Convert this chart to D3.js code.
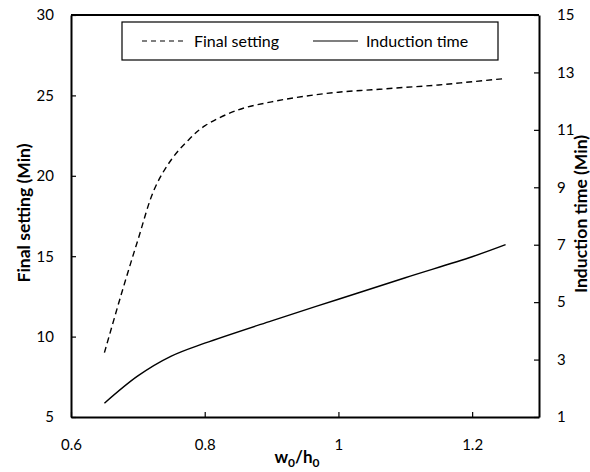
<!DOCTYPE html>
<html>
<head>
<meta charset="utf-8">
<script src="https://cdn.jsdelivr.net/npm/d3@7"></script>
<style>
body { margin: 0; background: #fff; }
text { font-family: Lato, 'Open Sans', sans-serif; fill: #000; }
</style>
</head>
<body>
<div id="chart"></div>
<script>
// final setting (left axis)
var fsX = [0.65, 0.675, 0.7, 0.725, 0.75, 0.775, 0.8, 0.85, 0.9, 0.95, 1.0, 1.05, 1.1, 1.15, 1.2, 1.25];
var fsY = [9.0, 12.6, 16.0, 19.2, 21.0, 22.2, 23.1, 24.1, 24.6, 24.95, 25.2, 25.35, 25.5, 25.65, 25.85, 26.05];
// induction time (right axis)
var itX = [0.65, 0.7, 0.75, 0.8, 0.9, 1.0, 1.1, 1.2, 1.25];
var itY = [1.48, 2.43, 3.12, 3.57, 4.35, 5.1, 5.85, 6.58, 7.0];

var xTicks = [0.6, 0.8, 1, 1.2];
var leftTicks = [5, 10, 15, 20, 25, 30];
var rightTicks = [1, 3, 5, 7, 9, 11, 13, 15];

var width = 590, height = 472;
var margin = {top: 15, right: 51, bottom: 55, left: 71};

var svg = d3.select('#chart').append('svg')
	.attr('width', width)
	.attr('height', height);

var x = d3.scaleLinear().domain([0.6, 1.3]).range([margin.left, width - margin.right]);
var yL = d3.scaleLinear().domain([5, 30]).range([height - margin.bottom, margin.top]);
var yR = d3.scaleLinear().domain([1, 15]).range([height - margin.bottom, margin.top]);

//axes
var xAxis = d3.axisBottom(x).tickValues(xTicks).tickSizeInner(-5).tickSizeOuter(0)
	.tickFormat(function(d){ return String(d); });
var gx = svg.append('g').attr('transform', 'translate(0,' + (height - margin.bottom) + ')').call(xAxis);

var gl = svg.append('g').attr('transform', 'translate(' + margin.left + ',0)')
	.call(d3.axisLeft(yL).tickValues(leftTicks).tickSizeInner(-5).tickSizeOuter(0));

var gr = svg.append('g').attr('transform', 'translate(' + (width - margin.right) + ',0)')
	.call(d3.axisRight(yR).tickValues(rightTicks).tickSizeInner(-5).tickSizeOuter(0));

[gx, gl, gr].forEach(function(g){
	g.select('.domain').attr('stroke', '#000').attr('stroke-width', 2);
	g.selectAll('.tick line').attr('stroke', '#000').attr('stroke-width', 1.2);
	g.selectAll('.tick text').attr('font-size', 15).attr('font-family', 'Lato, sans-serif').attr('fill', '#000');
});
gx.selectAll('.tick text').attr('dy', null).attr('y', 33);
gl.selectAll('.tick text').attr('x', -17);
gr.selectAll('.tick text').attr('x', 18);

// top frame line
svg.append('line')
	.attr('x1', margin.left).attr('x2', width - margin.right)
	.attr('y1', margin.top).attr('y2', margin.top)
	.attr('stroke', '#000').attr('stroke-width', 2);

//lines
var fsLine = d3.line().curve(d3.curveCatmullRom.alpha(0.5))
	.x(function(d, i){ return x(fsX[i]); })
	.y(function(d){ return yL(d); });
var itLine = d3.line().curve(d3.curveCatmullRom.alpha(0.5))
	.x(function(d, i){ return x(itX[i]); })
	.y(function(d){ return yR(d); });

svg.append('path').attr('d', fsLine(fsY))
	.attr('fill', 'none').attr('stroke', '#000').attr('stroke-width', 1.4)
	.attr('stroke-dasharray', '6,4');
svg.append('path').attr('d', itLine(itY))
	.attr('fill', 'none').attr('stroke', '#000').attr('stroke-width', 1.4);

//legend
var lg = svg.append('g');
lg.append('rect').attr('x', 122).attr('y', 22).attr('width', 376).attr('height', 38)
	.attr('fill', '#fff').attr('stroke', '#000').attr('stroke-width', 1.2);
lg.append('line').attr('x1', 142).attr('x2', 186).attr('y1', 41).attr('y2', 41)
	.attr('stroke', '#000').attr('stroke-width', 1.2).attr('stroke-dasharray', '5,4');
lg.append('text').attr('x', 194).attr('y', 46.5).attr('font-size', 16).text('Final setting');
lg.append('line').attr('x1', 313).attr('x2', 358).attr('y1', 41).attr('y2', 41)
	.attr('stroke', '#000').attr('stroke-width', 1.2);
lg.append('text').attr('x', 366).attr('y', 46.5).attr('font-size', 16).text('Induction time');

//axis titles
var xt = svg.append('text').attr('x', 297).attr('y', 463).attr('text-anchor', 'middle')
	.attr('font-size', 17).attr('font-weight', 'bold');
xt.append('tspan').text('w');
xt.append('tspan').attr('font-size', 12).attr('dy', 4).text('0');
xt.append('tspan').attr('dy', -4).text('/h');
xt.append('tspan').attr('font-size', 12).attr('dy', 4).text('0');

svg.append('text').attr('transform', 'translate(30,213) rotate(-90)')
	.attr('text-anchor', 'middle').attr('font-size', 17.5).attr('font-weight', 'bold')
	.text('Final setting (Min)');
svg.append('text').attr('transform', 'translate(587,214) rotate(-90)')
	.attr('text-anchor', 'middle').attr('font-size', 17.5).attr('font-weight', 'bold')
	.text('Induction time (Min)');
</script>
</body>
</html>
